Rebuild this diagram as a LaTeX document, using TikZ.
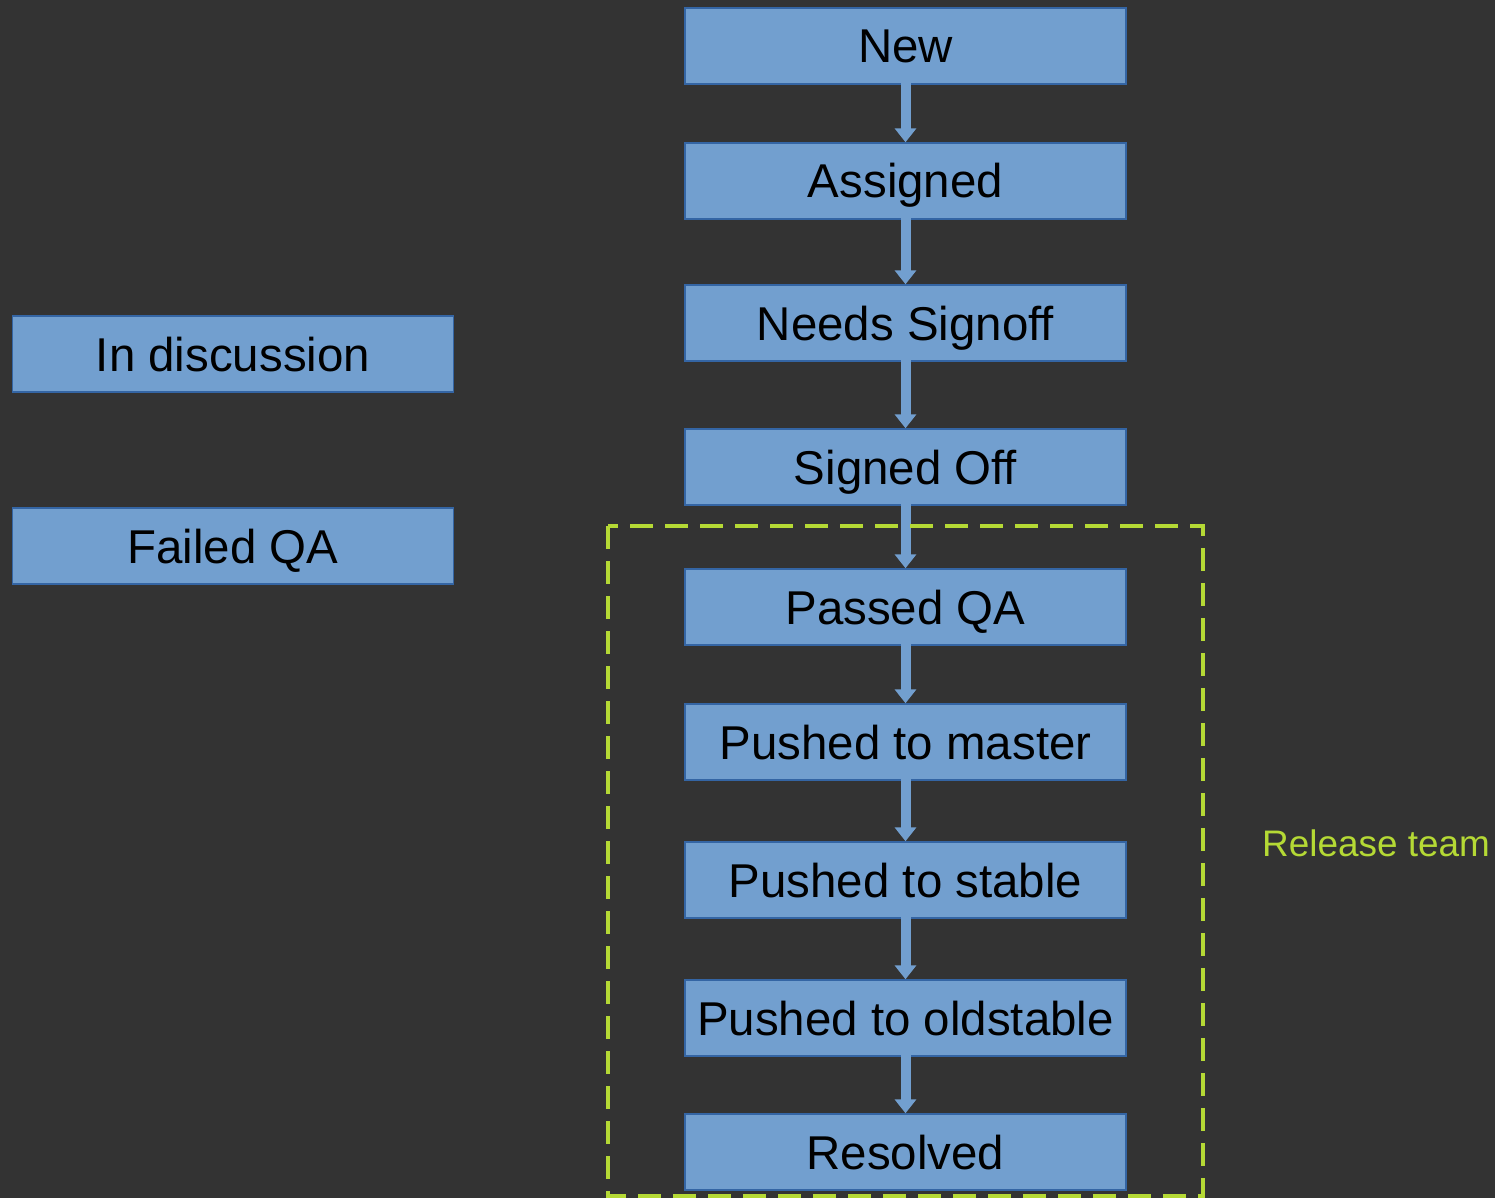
\documentclass[tikz,border=0pt]{standalone}
\usepackage{fontspec}
\setmainfont{Liberation Sans}
\usetikzlibrary{arrows.meta}

\definecolor{bgdark}{HTML}{333333}
\definecolor{boxblue}{HTML}{729FCF}
\definecolor{boxedge}{HTML}{3465A4}
\definecolor{teamgreen}{HTML}{B5D935}

\tikzset{
  state/.style={draw=boxedge, fill=boxblue, line width=0.8pt, minimum width=8.82cm,
    minimum height=1.52cm, inner sep=0pt, text height=0.68cm, text depth=0cm,
    text=black, font=\fontsize{27}{30}\selectfont},
  flow/.style={boxblue, line width=0.2cm, -{Triangle[width=0.42cm, length=0.28cm]}, shorten <=-0.05cm},
  team/.style={teamgreen, line width=0.08cm, dash pattern=on 0.46cm off 0.24cm}
}

\begin{document}
\begin{tikzpicture}
            % Background
            \fill[bgdark] (0,0) rectangle (29.9,-23.96);
            \useasboundingbox (0,0) rectangle (29.9,-23.96);

            % Main column
            \node[state] (new) at (18.11,-0.92) {New};
            \node[state] (assigned) at (18.11,-3.62) {Assigned};
            \node[state] (signoff) at (18.11,-6.46) {Needs Signoff};
            \node[state] (signed) at (18.11,-9.34) {Signed Off};
            \node[state] (passed) at (18.11,-12.14) {Passed QA};
            \node[state] (master) at (18.11,-14.84) {Pushed to master};
            \node[state] (stable) at (18.11,-17.60) {Pushed to stable};
            \node[state] (oldstable) at (18.11,-20.36) {Pushed to oldstable};
            \node[state] (resolved) at (18.11,-23.04) {Resolved};

            % Side states
            \node[state] (discussion) at (4.66,-7.08) {In discussion};
            \node[state] (failed) at (4.66,-10.92) {Failed QA};

            % Transitions
            \foreach \a/\b in {new/assigned, assigned/signoff, signoff/signed,
                signed/passed, passed/master, master/stable, stable/oldstable,
                oldstable/resolved} {
                \draw[flow] (\a.south) -- (\b.north);
            }

            % Release team
            \draw[team] (12.16,-10.52) rectangle (24.06,-23.92);
            \node[teamgreen, font=\fontsize{21}{24}\selectfont] (release) at (27.52,-16.86) {Release team};

\end{tikzpicture}
\end{document}
